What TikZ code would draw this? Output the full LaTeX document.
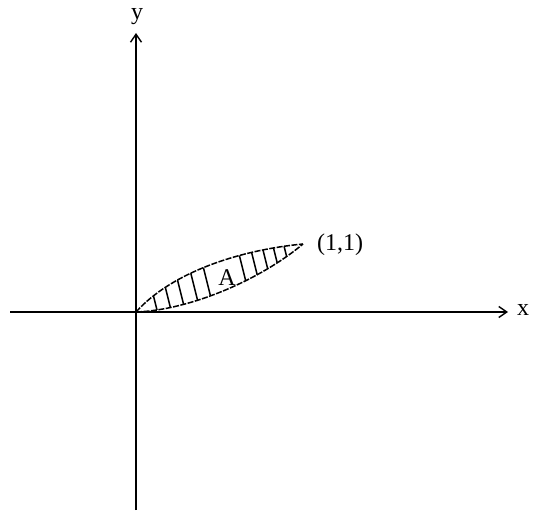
\documentclass[tikz,border=0pt]{standalone}
\usepackage{fontspec}
\setmainfont{Liberation Serif}
\usetikzlibrary{arrows.meta}
\begin{document}
\begin{tikzpicture}[x=1pt,y=-1pt,
  axis/.style={line width=1.5pt,-{Straight Barb[length=8pt,width=11pt,line width=1.4pt]}},
  curve/.style={line width=1.5pt,dash pattern=on 6pt off 1.5pt},
  hatch/.style={line width=1.5pt},
  lbl/.style={font=\fontsize{24}{26}\selectfont,inner sep=0pt}]
\useasboundingbox (0,0) rectangle (535,511);
\coordinate (O) at (136,312);
\coordinate (P) at (303,244);
\coordinate (xs) at (10,312);
\coordinate (xe) at (508,312);
\coordinate (ys) at (136,510);
\coordinate (ye) at (136,33);
\draw[axis] (xs) -- (xe);
\draw[axis] (ys) -- (ye);
\node[lbl] (xl) at (523,310) {x};
\node[lbl] (yl) at (137,17) {y};
\node[lbl] (pl) at (340,245) {(1,1)};
\node[lbl] (al) at (227,278) {A};
\begin{scope}
  \clip (O) .. controls (172,272) and (240,250) .. (P) .. controls (260,280) and (190,310) .. (O) -- cycle;
  \foreach \xx in {147,161,175,190,204,243,256,268,279,290}
    \draw[hatch] (\xx-10,230) -- (\xx+12.5,320);
\end{scope}
\draw[curve] (O) .. controls (172,272) and (240,250) .. (P);
\draw[curve] (O) .. controls (190,310) and (260,280) .. (P);
\end{tikzpicture}
\end{document}
